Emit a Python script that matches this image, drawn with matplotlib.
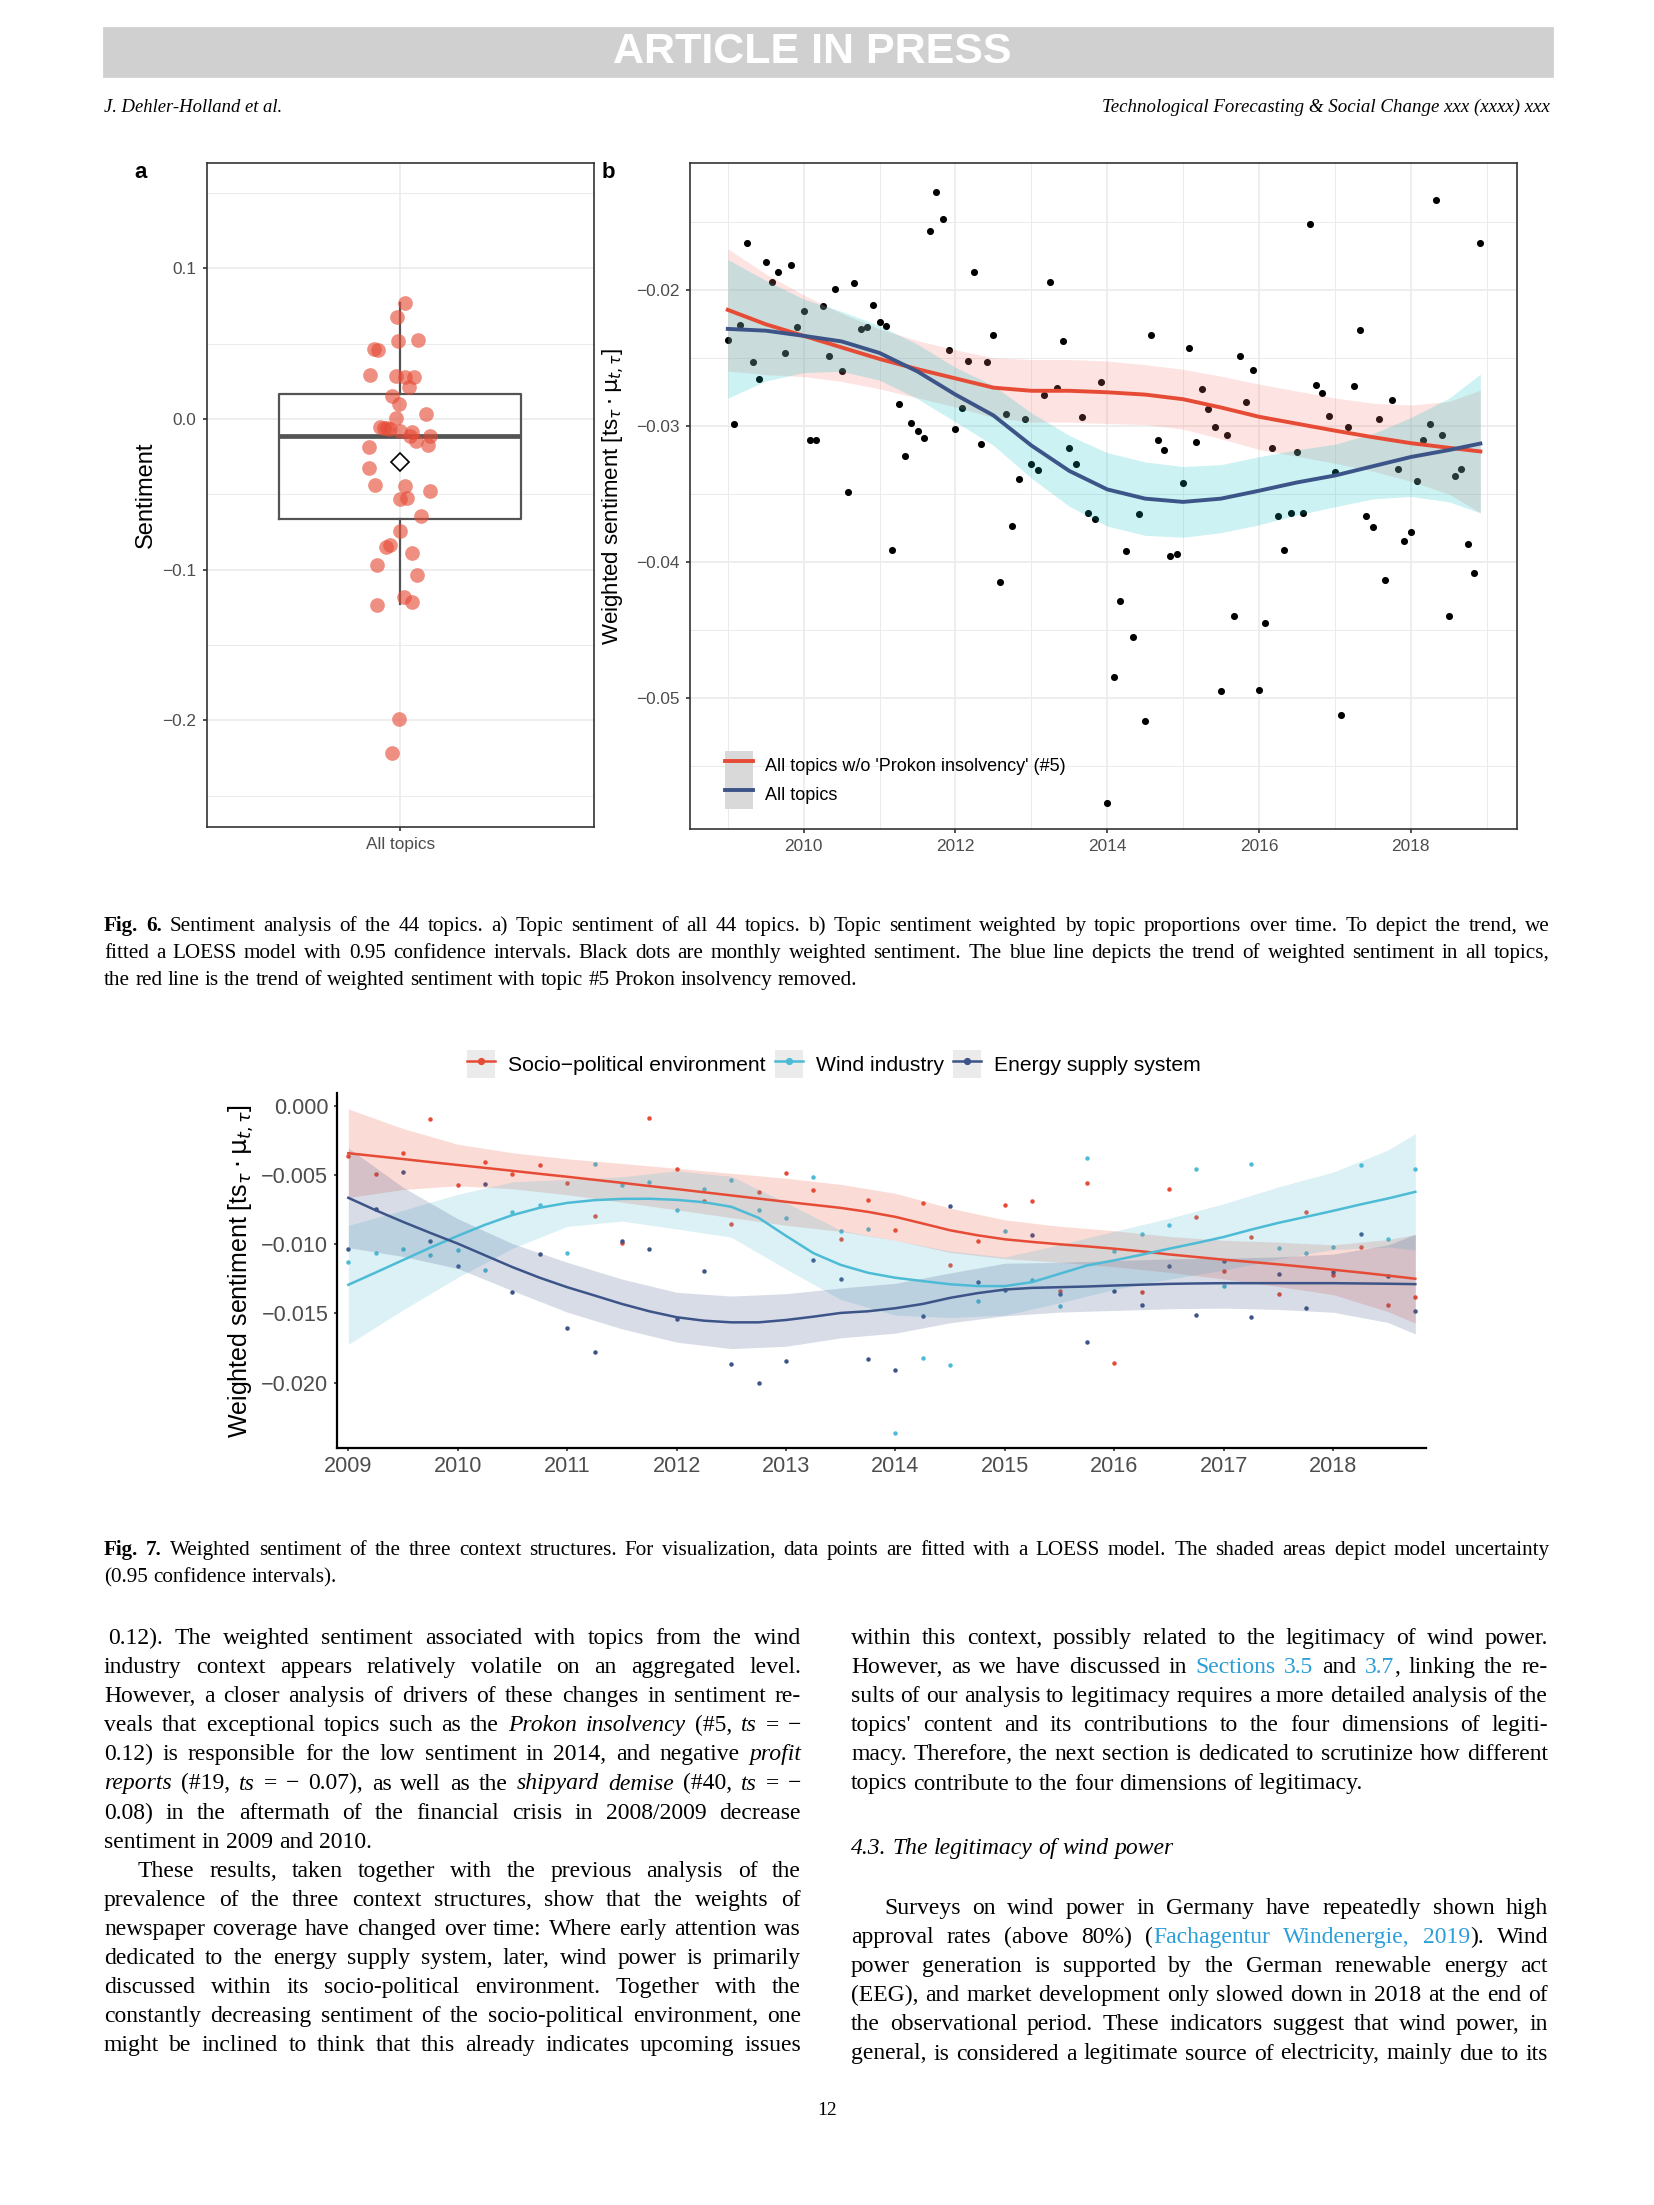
import re
import numpy as np
import matplotlib
matplotlib.use('Agg')
import matplotlib.pyplot as plt
from matplotlib.patches import Patch, Rectangle
from matplotlib.lines import Line2D
from matplotlib.legend_handler import HandlerTuple

W, H, DPI = 1654, 2205, 200
plt.rcParams['font.family'] = ['Liberation Sans', 'DejaVu Sans']
SERIF = ['Liberation Serif', 'DejaVu Serif']

RED = '#E64B35'
CYAN = '#4DBBD5'
NAVY = '#3C5488'
TICKC = '#4D4D4D'
LINK = '#2B9ED8'

# ---------------- panel a: topic sentiment (44 topics)
a_sent = [0.0772, 0.0675, 0.0517, 0.0526, 0.0462, 0.0456, 0.0295, 0.0286, 0.0277, 0.0277,
          0.0213, 0.0152, 0.0097, 0.0033, 0.0009, -0.0052, -0.0058, -0.0064, -0.0061, -0.0079,
          -0.0088, -0.0112, -0.0112, -0.0146, -0.0170, -0.0185, -0.0322, -0.0435, -0.0447, -0.0480,
          -0.0529, -0.0523, -0.0641, -0.0742, -0.0848, -0.0836, -0.0888, -0.0967, -0.1036, -0.1182,
          -0.1213, -0.1237, -0.1991, -0.2216]
a_jitter = [0.014, -0.010, -0.008, 0.054, -0.082, -0.070, -0.092, -0.014, 0.015, 0.042,
            0.026, -0.026, -0.004, 0.079, -0.014, -0.061, -0.049, -0.030, -0.040, -0.001,
            0.038, 0.030, 0.092, 0.049, 0.087, -0.098, -0.096, -0.079, 0.016, 0.092,
            0.001, 0.021, 0.064, 0.000, -0.043, -0.032, 0.036, -0.071, 0.052, 0.012,
            0.038, -0.071, -0.003, -0.024]
a_box = dict(med=-0.0115, q1=-0.0664, q3=0.0164, whislo=-0.1227, whishi=0.0767,
             mean=-0.0288, fliers=[])

# ---------------- panel b: monthly weighted sentiment 2009-01 .. 2018-12
b_months = 2009 + np.arange(120) / 12
b_vals = [
    -0.02367, -0.02983, -0.02259, -0.01653, -0.02531, -0.02656, -0.01796, -0.01939, -0.01864, -0.02463, -0.01813, -0.02272,
    -0.02156, -0.03105, -0.03105, -0.02119, -0.02486, -0.01993, -0.02595, -0.03486, -0.01949, -0.02289, -0.02272, -0.02109,
    -0.02238, -0.02262, -0.03908, -0.02837, -0.03221, -0.02980, -0.03034, -0.03088, -0.01565, -0.01282, -0.01480, -0.02442,
    -0.03020, -0.02864, -0.02524, -0.01864, -0.03133, -0.02531, -0.02330, -0.04146, -0.02912, -0.03738, -0.03388, -0.02952,
    -0.03276, -0.03327, -0.02772, -0.01939, -0.02724, -0.02374, -0.03163, -0.03276, -0.02932, -0.03636, -0.03687, -0.02680,
    -0.05772, -0.04844, -0.04286, -0.03922, -0.04554, -0.03650, -0.05170, -0.02330, -0.03105, -0.03177, -0.03959, -0.03939,
    -0.03422, -0.02425, -0.03119, -0.02731, -0.02874, -0.03007, -0.04946, -0.03068, -0.04395, -0.02486, -0.02823, -0.02585,
    -0.04939, -0.04446, -0.03163, -0.03663, -0.03908, -0.03639, -0.03194, -0.03636, -0.01517, -0.02701, -0.02759, -0.02929,
    -0.03337, -0.05122, -0.03007, -0.02707, -0.02293, -0.03663, -0.03745, -0.02952, -0.04133, -0.02806, -0.03313, -0.03847,
    -0.03776, -0.03405, -0.03102, -0.02983, -0.01340, -0.03068, -0.04395, -0.03371, -0.03313, -0.03867, -0.04078, -0.01653,
]
b_knots = [2009.0, 2009.5, 2010.0, 2010.5, 2011.0, 2011.5, 2012.0, 2012.5, 2013.0, 2013.5, 2014.0,
           2014.5, 2015.0, 2015.5, 2016.0, 2016.5, 2017.0, 2017.5, 2018.0, 2018.5, 2018.917]
b_red_fit = [-0.02146, -0.02252, -0.02337, -0.02422, -0.02507, -0.02582, -0.02650, -0.02718, -0.02741, -0.02741, -0.02752,
             -0.02769, -0.02803, -0.02864, -0.02932, -0.02983, -0.03034, -0.03082, -0.03126, -0.03160, -0.03187]
b_red_hi = [-0.01696, -0.01882, -0.02037, -0.02172, -0.02287, -0.02372, -0.02440, -0.02498, -0.02511, -0.02511, -0.02522,
            -0.02549, -0.02583, -0.02634, -0.02692, -0.02743, -0.02794, -0.02832, -0.02846, -0.02820, -0.02737]
b_red_lo = [-0.02596, -0.02622, -0.02637, -0.02672, -0.02727, -0.02792, -0.02860, -0.02938, -0.02971, -0.02971, -0.02982,
            -0.02989, -0.03023, -0.03094, -0.03172, -0.03223, -0.03274, -0.03332, -0.03406, -0.03500, -0.03637]
b_blue_fit = [-0.02286, -0.02299, -0.02337, -0.02378, -0.02463, -0.02599, -0.02769, -0.02922, -0.03143, -0.03330, -0.03466,
              -0.03534, -0.03558, -0.03534, -0.03476, -0.03415, -0.03364, -0.03296, -0.03228, -0.03177, -0.03129]
b_blue_hi = [-0.01776, -0.01929, -0.02067, -0.02158, -0.02263, -0.02399, -0.02569, -0.02702, -0.02903, -0.03070, -0.03196,
             -0.03264, -0.03298, -0.03284, -0.03226, -0.03175, -0.03134, -0.03056, -0.02938, -0.02797, -0.02619]
b_blue_lo = [-0.02796, -0.02669, -0.02607, -0.02598, -0.02663, -0.02799, -0.02969, -0.03142, -0.03383, -0.03590, -0.03736,
             -0.03804, -0.03818, -0.03784, -0.03726, -0.03655, -0.03594, -0.03536, -0.03518, -0.03557, -0.03639]
b_labels = ["All topics w/o 'Prokon insolvency' (#5)", "All topics"]

# ---------------- fig 7: quarterly weighted sentiment of context structures
q_dates = 2009 + np.arange(40) / 4
socio = [-0.00365, -0.00491, -0.00339, -0.00099, -0.00576, -0.00404, -0.00496, -0.00426,
         -0.00561, -0.00793, -0.00992, -0.00092, -0.00455, -0.00689, -0.00854, -0.00624,
         -0.00489, -0.00607, -0.00965, -0.00680, -0.00900, -0.00701, -0.01151, -0.00975,
         -0.00718, -0.00687, -0.01342, -0.00561, -0.01860, -0.01347, -0.00602, -0.00805,
         -0.01197, -0.00948, -0.01362, -0.00767, -0.01221, -0.01021, -0.01441, -0.01381]
wind = [-0.01129, -0.01062, -0.01037, -0.01076, -0.01040, -0.01190, -0.00771, -0.00718,
        -0.01062, -0.00423, -0.00571, -0.00551, -0.00752, -0.00602, -0.00539, -0.00750,
        -0.00810, -0.00518, -0.00907, -0.00888, -0.02363, -0.01821, -0.01874, -0.01410,
        -0.00902, -0.01262, -0.01444, -0.00377, -0.01050, -0.00924, -0.00859, -0.00457,
        -0.01304, -0.00423, -0.01025, -0.01064, -0.01023, -0.00426, -0.00965, -0.00459]
energy = [-0.01033, -0.00747, -0.00481, -0.00975, -0.01156, -0.00568, -0.01347, -0.01071,
          -0.01608, -0.01778, -0.00979, -0.01033, -0.01543, -0.01195, -0.01867, -0.02000,
          -0.01843, -0.01112, -0.01250, -0.01831, -0.01908, -0.01516, -0.00723, -0.01272,
          -0.01328, -0.00931, -0.01359, -0.01707, -0.01337, -0.01439, -0.01161, -0.01509,
          -0.01125, -0.01524, -0.01214, -0.01458, -0.01202, -0.00926, -0.01229, -0.01480]
socio_fit = [-0.00343, -0.00364, -0.00385, -0.00407, -0.00428, -0.00449, -0.00470, -0.00492,
             -0.00513, -0.00535, -0.00557, -0.00580, -0.00602, -0.00625, -0.00648, -0.00671,
             -0.00694, -0.00716, -0.00738, -0.00767, -0.00803, -0.00851, -0.00900, -0.00936,
             -0.00965, -0.00984, -0.01001, -0.01016, -0.01033, -0.01052, -0.01074, -0.01093,
             -0.01112, -0.01129, -0.01146, -0.01165, -0.01185, -0.01205, -0.01227, -0.01250]
wind_fit = [-0.01294, -0.01205, -0.01115, -0.01025, -0.00940, -0.00860, -0.00790, -0.00737,
            -0.00702, -0.00682, -0.00673, -0.00672, -0.00680, -0.00697, -0.00730, -0.00810,
            -0.00940, -0.01065, -0.01150, -0.01207, -0.01243, -0.01267, -0.01290, -0.01303,
            -0.01303, -0.01274, -0.01214, -0.01154, -0.01117, -0.01076, -0.01033, -0.00992,
            -0.00948, -0.00895, -0.00846, -0.00803, -0.00759, -0.00713, -0.00670, -0.00622]
energy_fit = [-0.00665, -0.00755, -0.00839, -0.00919, -0.00996, -0.01081, -0.01166, -0.01243,
              -0.01311, -0.01371, -0.01432, -0.01485, -0.01528, -0.01553, -0.01565, -0.01565,
              -0.01548, -0.01524, -0.01497, -0.01485, -0.01463, -0.01432, -0.01388, -0.01354,
              -0.01328, -0.01316, -0.01311, -0.01306, -0.01299, -0.01293, -0.01287, -0.01284,
              -0.01282, -0.01282, -0.01282, -0.01282, -0.01282, -0.01284, -0.01286, -0.01289]
h_knots = [2009.0, 2009.5, 2010.0, 2010.5, 2011.0, 2011.5, 2012.0, 2012.5, 2013.0, 2013.5, 2014.0,
           2014.5, 2015.0, 2015.5, 2016.0, 2016.5, 2017.0, 2017.5, 2018.0, 2018.5, 2018.75]
socio_hi = [-0.00023, -0.00165, -0.00278, -0.00340, -0.00383, -0.00417, -0.00452, -0.00488, -0.00524, -0.00568, -0.00633,
            -0.00740, -0.00825, -0.00871, -0.00903, -0.00944, -0.00972, -0.00986, -0.01005, -0.00967, -0.00930]
socio_lo = [-0.00663, -0.00605, -0.00578, -0.00600, -0.00643, -0.00697, -0.00752, -0.00808, -0.00864, -0.00908, -0.00973,
            -0.01060, -0.01105, -0.01131, -0.01163, -0.01204, -0.01252, -0.01306, -0.01365, -0.01487, -0.01570]
wind_hi = [-0.00864, -0.00755, -0.00640, -0.00550, -0.00532, -0.00513, -0.00470, -0.00510, -0.00700, -0.00900, -0.00973,
           -0.01050, -0.01093, -0.01004, -0.00907, -0.00813, -0.00708, -0.00586, -0.00479, -0.00320, -0.00202]
wind_lo = [-0.01724, -0.01475, -0.01240, -0.01030, -0.00872, -0.00833, -0.00890, -0.00950, -0.01180, -0.01400, -0.01513,
           -0.01530, -0.01513, -0.01424, -0.01327, -0.01253, -0.01188, -0.01106, -0.01039, -0.01020, -0.01042]
energy_hi = [-0.00305, -0.00589, -0.00816, -0.00996, -0.01131, -0.01252, -0.01348, -0.01375, -0.01358, -0.01317, -0.01283,
             -0.01208, -0.01138, -0.01131, -0.01119, -0.01107, -0.01102, -0.01092, -0.01072, -0.01006, -0.00929]
energy_lo = [-0.01025, -0.01089, -0.01176, -0.01336, -0.01491, -0.01612, -0.01708, -0.01755, -0.01738, -0.01677, -0.01643,
             -0.01568, -0.01518, -0.01491, -0.01479, -0.01467, -0.01462, -0.01472, -0.01492, -0.01566, -0.01649]
ctx_labels = ['Socio\u2212political environment', 'Wind industry', 'Energy supply system']

# ---------------- page text
cap6 = ["*Fig.* *6.* Sentiment analysis of the 44 topics. a) Topic sentiment of all 44 topics. b) Topic sentiment weighted by topic proportions over time. To depict the trend, we",
        "fitted a LOESS model with 0.95 confidence intervals. Black dots are monthly weighted sentiment. The blue line depicts the trend of weighted sentiment in all topics,",
        "the red line is the trend of weighted sentiment with topic #5 Prokon insolvency removed."]
cap7 = ["*Fig.* *7.* Weighted sentiment of the three context structures. For visualization, data points are fitted with a LOESS model. The shaded areas depict model uncertainty",
        "(0.95 confidence intervals)."]
left_col = ["0.12). The weighted sentiment associated with topics from the wind",
            "industry context appears relatively volatile on an aggregated level.",
            "However, a closer analysis of drivers of these changes in sentiment re-",
            "veals that exceptional topics such as the _Prokon_ _insolvency_ (#5, _ts_ = \u2212",
            "0.12) is responsible for the low sentiment in 2014, and negative _profit_",
            "_reports_ (#19, _ts_ = \u2212 0.07), as well as the _shipyard_ _demise_ (#40, _ts_ = \u2212",
            "0.08) in the aftermath of the financial crisis in 2008/2009 decrease",
            "sentiment in 2009 and 2010.",
            "These results, taken together with the previous analysis of the",
            "prevalence of the three context structures, show that the weights of",
            "newspaper coverage have changed over time: Where early attention was",
            "dedicated to the energy supply system, later, wind power is primarily",
            "discussed within its socio-political environment. Together with the",
            "constantly decreasing sentiment of the socio-political environment, one",
            "might be inclined to think that this already indicates upcoming issues"]
right_col = ["within this context, possibly related to the legitimacy of wind power.",
             "However, as we have discussed in ~Sections~ ~3.5~ and ~3.7~, linking the re-",
             "sults of our analysis to legitimacy requires a more detailed analysis of the",
             "topics' content and its contributions to the four dimensions of legiti-",
             "macy. Therefore, the next section is dedicated to scrutinize how different",
             "topics contribute to the four dimensions of legitimacy."]
right_col2 = ["Surveys on wind power in Germany have repeatedly shown high",
              "approval rates (above 80%) (~Fachagentur~ ~Windenergie,~ ~2019~). Wind",
              "power generation is supported by the German renewable energy act",
              "(EEG), and market development only slowed down in 2018 at the end of",
              "the observational period. These indicators suggest that wind power, in",
              "general, is considered a legitimate source of electricity, mainly due to its"]

YLAB = r'Weighted sentiment [ts$_{\tau}\cdot\mathrm{\mu}_{t,\tau}$]'

fig = plt.figure(figsize=(W / DPI, H / DPI), dpi=DPI)
renderer = fig.canvas.get_renderer()


def fx(x):
    return x / W


def fy(y):
    return 1 - y / H


def add_ax(x0, y0, x1, y1):
    return fig.add_axes([x0 / W, 1 - y1 / H, (x1 - x0) / W, (y1 - y0) / H])


def text_line(line, x0, x1, y, size, justify=True):
    # y is the baseline in pixels; words laid out one by one so the line can be justified
    words = []
    for w in line.split(' '):
        parts = []
        for seg in re.findall(r'_[^_]+_|\*[^*]+\*|~[^~]+~|[^_*~]+', w):
            kw = {}
            if seg[0] == '_':
                seg, kw = seg[1:-1], dict(style='italic')
            elif seg[0] == '*':
                seg, kw = seg[1:-1], dict(weight='bold')
            elif seg[0] == '~':
                seg, kw = seg[1:-1], dict(color=LINK)
            parts.append(fig.text(0, fy(y), seg, fontsize=size, family=SERIF,
                                  va='baseline', ha='left', **kw))
        words.append(parts)
    widths = [[t.get_window_extent(renderer).width for t in p] for p in words]
    total = sum(sum(ws) for ws in widths)
    gap = size * DPI / 72 * 0.25
    if justify and len(words) > 1:
        gap = (x1 - x0 - total) / (len(words) - 1)
    x = x0
    for p, ws in zip(words, widths):
        for t, w in zip(p, ws):
            t.set_x(fx(x))
            x += w
        x += gap


def style_ticks(ax, size, length):
    ax.tick_params(axis='both', which='major', labelsize=size, labelcolor=TICKC,
                   color='#333333', length=length, width=0.6, pad=2.2)
    ax.tick_params(axis='both', which='minor', length=0)


# ---------------- header
fig.patches.append(Rectangle((fx(104), fy(76)), (1552 - 104) / W, 48 / H,
                             transform=fig.transFigure, color='#D0D0D0', zorder=0))
fig.text(fx(812), fy(52), 'ARTICLE IN PRESS', fontsize=15.5, weight='bold', color='white',
         ha='center', va='center')
fig.text(fx(104), fy(112), 'J. Dehler-Holland et al.', fontsize=6.7, style='italic',
         family=SERIF, ha='left', va='baseline')
fig.text(fx(1550), fy(112), 'Technological Forecasting & Social Change xxx (xxxx) xxx',
         fontsize=6.8, style='italic', family=SERIF, ha='right', va='baseline')

# ---------------- panel a
ax_a = add_ax(206.7, 162.7, 593.6, 827)
ax_a.set_xlim(0.4, 1.6)
ax_a.set_ylim(-0.2707, 0.1701)
ax_a.set_yticks([-0.2, -0.1, 0.0, 0.1])
ax_a.set_yticklabels(['\u22120.2', '\u22120.1', '0.0', '0.1'])
ax_a.set_yticks([-0.25, -0.15, -0.05, 0.05, 0.15], minor=True)
ax_a.set_xticks([1])
ax_a.set_xticklabels(['All topics'])
ax_a.grid(True, which='major', color='#EBEBEB', lw=0.6)
ax_a.grid(True, which='minor', axis='y', color='#EBEBEB', lw=0.35)
ax_a.set_axisbelow(True)
ax_a.bxp([a_box], positions=[1], widths=[0.75], showmeans=True, showcaps=False,
         showfliers=False, manage_ticks=False,
         boxprops=dict(color='#545454', lw=0.8),
         whiskerprops=dict(color='#545454', lw=0.8),
         medianprops=dict(color='#545454', lw=1.7),
         meanprops=dict(marker='D', mfc='white', mec='black', ms=4.8, mew=0.6))
ax_a.scatter(1 + np.array(a_jitter), a_sent, s=28, color=RED, alpha=0.62, lw=0, zorder=3)
ax_a.set_ylabel('Sentiment', fontsize=8.5)
ax_a.yaxis.set_label_coords(-0.13, 0.5)
style_ticks(ax_a, 6.2, 4.3 * 72 / DPI)
for s in ax_a.spines.values():
    s.set_color('#333333')
    s.set_linewidth(0.6)
fig.text(fx(134), fy(173), 'a', fontsize=8, weight='bold', ha='left', va='center')

# ---------------- panel b
ax_b = add_ax(690.3, 162.7, 1517.3, 829)
ax_b.set_xlim(2008.506, 2019.404)
ax_b.set_ylim(-0.05963, -0.01064)
ax_b.set_xticks([2010, 2012, 2014, 2016, 2018])
ax_b.set_xticks([2009, 2011, 2013, 2015, 2017, 2019], minor=True)
ax_b.set_yticks([-0.05, -0.04, -0.03, -0.02])
ax_b.set_yticklabels(['\u22120.05', '\u22120.04', '\u22120.03', '\u22120.02'])
ax_b.set_yticks([-0.055, -0.045, -0.035, -0.025, -0.015], minor=True)
ax_b.grid(True, which='major', color='#EBEBEB', lw=0.6)
ax_b.grid(True, which='minor', color='#EBEBEB', lw=0.35)
ax_b.set_axisbelow(True)
ax_b.scatter(b_months, b_vals, s=6.5, color='black', lw=0, zorder=2)
ax_b.fill_between(b_knots, b_red_lo, b_red_hi, color='#F8766D', alpha=0.2, lw=0, zorder=3)
ax_b.fill_between(b_knots, b_blue_lo, b_blue_hi, color='#00BFC4', alpha=0.2, lw=0, zorder=3)
ax_b.plot(b_knots, b_red_fit, color=RED, lw=1.4, zorder=4)
ax_b.plot(b_knots, b_blue_fit, color=NAVY, lw=1.4, zorder=4)
ax_b.set_ylabel(YLAB, fontsize=8.0)
ax_b.yaxis.set_label_coords(-0.076, 0.5)
style_ticks(ax_b, 6.2, 4.3 * 72 / DPI)
for s in ax_b.spines.values():
    s.set_color('#333333')
    s.set_linewidth(0.6)
key_b = [(Patch(facecolor='#D9D9D9', edgecolor='none'), Line2D([], [], color=RED, lw=1.4)),
         (Patch(facecolor='#D9D9D9', edgecolor='none'), Line2D([], [], color=NAVY, lw=1.4))]
ax_b.legend(key_b, b_labels, handler_map={tuple: HandlerTuple(ndivide=1, pad=0)},
            loc='lower left', bbox_to_anchor=(0.042, 0.03), frameon=False, fontsize=6.5,
            handlelength=1.55, handleheight=2.09, handletextpad=0.66, labelspacing=0,
            borderpad=0, borderaxespad=0)
fig.text(fx(602), fy(173), 'b', fontsize=8, weight='bold', ha='left', va='center')

# ---------------- fig 6 caption
for i, line in enumerate(cap6):
    text_line(line, 104, 1550, 931 + i * 27, 7.6, justify=i < len(cap6) - 1)

# ---------------- fig 7
ax7 = add_ax(336.7, 1093.3, 1425.7, 1448)
ax7.set_xlim(2008.894, 2018.845)
ax7.set_ylim(-0.02473, 0.0009)
ax7.set_xticks(list(range(2009, 2019)))
ax7.set_yticks([0.0, -0.005, -0.01, -0.015, -0.02])
ax7.set_yticklabels(['0.000', '\u22120.005', '\u22120.010', '\u22120.015', '\u22120.020'])
for side in ['top', 'right']:
    ax7.spines[side].set_visible(False)
for side in ['left', 'bottom']:
    ax7.spines[side].set_color('black')
    ax7.spines[side].set_linewidth(0.8)
ax7.tick_params(labelsize=7.8, labelcolor=TICKC, color='#333333', length=1.2, width=0.6, pad=1.8)
series = [(socio, socio_fit, socio_lo, socio_hi, RED),
          (wind, wind_fit, wind_lo, wind_hi, CYAN),
          (energy, energy_fit, energy_lo, energy_hi, NAVY)]
for pts, fit, lo, hi, c in series:
    ax7.scatter(q_dates, pts, s=2.6, color=c, lw=0, zorder=1)
for pts, fit, lo, hi, c in series:
    ax7.fill_between(h_knots, lo, hi, color=c, alpha=0.2, lw=0, zorder=2)
for pts, fit, lo, hi, c in series:
    ax7.plot(q_dates, fit, color=c, lw=0.9, zorder=3)
ax7.set_ylabel(YLAB, fontsize=9.0)
ax7.yaxis.set_label_coords(-0.074, 0.5)
key7 = [(Patch(facecolor='#EBEBEB', edgecolor='none'),
         Line2D([], [], color=c, lw=0.9, marker='o', ms=1.6)) for c in [RED, CYAN, NAVY]]
fig.legend(key7, ctx_labels, handler_map={tuple: HandlerTuple(ndivide=1, pad=0)},
           loc='center', bbox_to_anchor=(fx(834), fy(1064)), ncol=3, frameon=False,
           fontsize=7.6, handlelength=1.32, handleheight=1.63, handletextpad=0.62,
           columnspacing=0.45, borderpad=0, numpoints=1)

# ---------------- fig 7 caption
for i, line in enumerate(cap7):
    text_line(line, 104, 1550, 1555 + i * 27, 7.6, justify=i < len(cap7) - 1)

# ---------------- body text
step = 29.1
for i, line in enumerate(left_col):
    x0 = 138 if i == 8 else 108 if i == 0 else 104
    text_line(line, x0, 801, 1644 + i * step, 8.5, justify=i != 7)
for i, line in enumerate(right_col):
    text_line(line, 851, 1548, 1644 + i * step, 8.5, justify=i != len(right_col) - 1)
text_line('_4.3._ _The_ _legitimacy_ _of_ _wind_ _power_', 851, 1548, 1854, 8.5, justify=False)
for i, line in enumerate(right_col2):
    text_line(line, 884 if i == 0 else 851, 1548, 1914 + i * step, 8.5, justify=True)
fig.text(fx(827), fy(2115), '12', fontsize=7, family=SERIF, ha='center', va='baseline')

fig.savefig('out.png', dpi=DPI)
